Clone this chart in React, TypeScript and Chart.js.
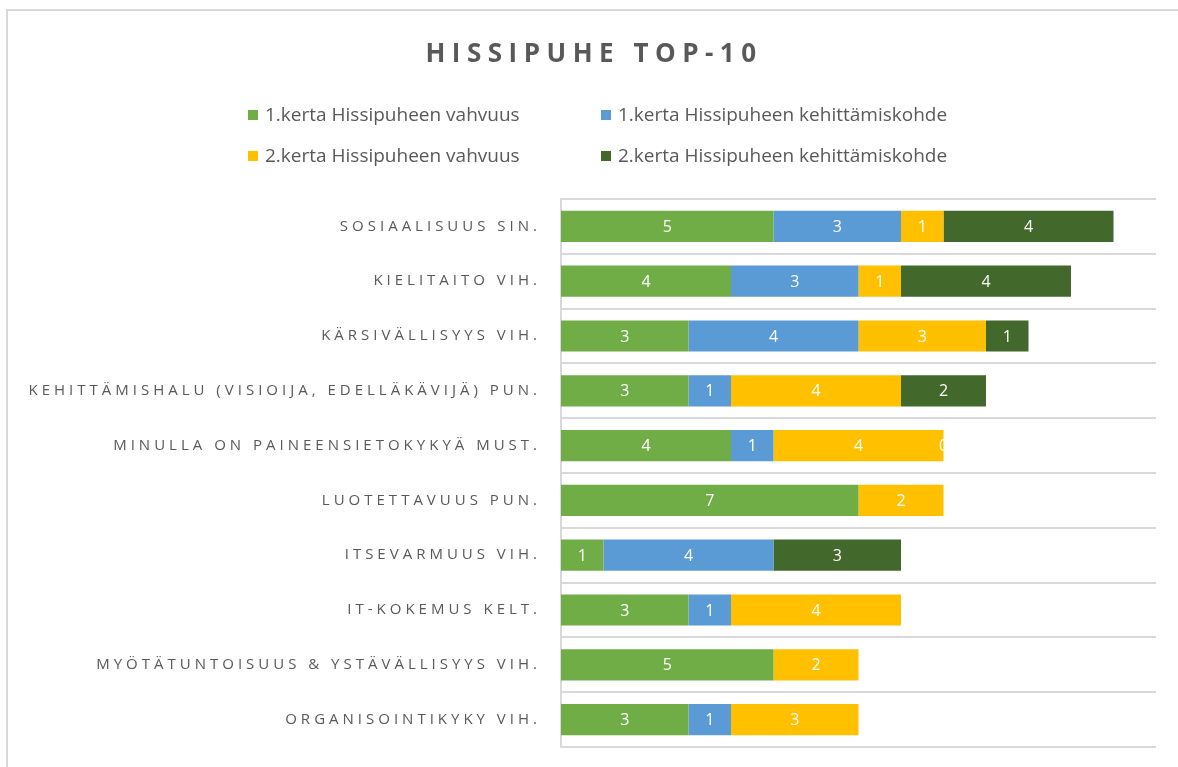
import React, { useEffect, useRef } from 'react';
import { Chart, registerables } from 'chart.js';

Chart.register(...registerables);

const chartTitle = 'HISSIPUHE TOP-10';

const categories = [
  'SOSIAALISUUS SIN.',
  'KIELITAITO VIH.',
  'KÄRSIVÄLLISYYS VIH.',
  'KEHITTÄMISHALU (VISIOIJA, EDELLÄKÄVIJÄ) PUN.',
  'MINULLA ON PAINEENSIETOKYKYÄ MUST.',
  'LUOTETTAVUUS PUN.',
  'ITSEVARMUUS VIH.',
  'IT-KOKEMUS KELT.',
  'MYÖTÄTUNTOISUUS & YSTÄVÄLLISYYS VIH.',
  'ORGANISOINTIKYKY VIH.',
];

const seriesNames = [
  '1.kerta Hissipuheen vahvuus',
  '1.kerta Hissipuheen kehittämiskohde',
  '2.kerta Hissipuheen vahvuus',
  '2.kerta Hissipuheen kehittämiskohde',
];

const firstStrength = [5, 4, 3, 3, 4, 7, 1, 3, 5, 3];
const firstDevelop = [3, 3, 4, 1, 1, null, 4, 1, null, 1];
const secondStrength = [1, 1, 3, 4, 4, 2, null, 4, 2, 3];
const secondDevelop = [4, 4, 1, 2, 0, null, 3, null, null, null];

const seriesColors = ['#70AD47', '#5B9BD5', '#FFC000', '#43682B'];
const xMin = 0;
const xMax = 14;

const TITLE_SPACING = '6.5px';
const TICK_SPACING = '4px';
const AXIS_RIGHT = 561;
const TITLE_BOX_LEFT = 32;

const spacingPlugin = {
  id: 'letterSpacingPlugin',
  beforeLayout(chart: any) {
    chart.ctx.letterSpacing = TICK_SPACING;
  },
  afterLayout(chart: any) {
    if (chart.titleBlock) chart.titleBlock.left = TITLE_BOX_LEFT;
  },
  beforeDraw(chart: any) {
    chart.ctx.letterSpacing = TITLE_SPACING;
  },
  beforeDatasetsDraw(chart: any) {
    chart.ctx.letterSpacing = '0px';
  },
  afterDatasetsDraw(chart: any) {
    chart.ctx.letterSpacing = TICK_SPACING;
  },
};

const valueLabelPlugin = {
  id: 'valueLabels',
  afterDatasetsDraw(chart: any) {
    const ctx = chart.ctx;
    ctx.save();
    ctx.letterSpacing = '0px';
    ctx.font = '16px "Open Sans", sans-serif';
    ctx.fillStyle = '#ffffff';
    ctx.textAlign = 'center';
    ctx.textBaseline = 'middle';
    chart.data.datasets.forEach((ds: any, i: number) => {
      const meta = chart.getDatasetMeta(i);
      meta.data.forEach((el: any, j: number) => {
        const v = ds.data[j];
        if (v === null || v === undefined) return;
        const p = el.getProps(['x', 'base', 'y'], true);
        ctx.fillText(String(v), (p.x + p.base) / 2, p.y + 1);
      });
    });
    ctx.restore();
  },
};

const legendPlugin = {
  id: 'gridLegend',
  afterDraw(chart: any) {
    const ctx = chart.ctx;
    const cols = [248, 601];
    const rows = [115, 156];
    ctx.save();
    ctx.letterSpacing = '0px';
    ctx.font = '19px "Open Sans", sans-serif';
    ctx.textAlign = 'left';
    ctx.textBaseline = 'middle';
    chart.data.datasets.forEach((ds: any, i: number) => {
      const x = cols[i % 2];
      const y = rows[Math.floor(i / 2)];
      ctx.fillStyle = ds.backgroundColor;
      ctx.fillRect(x, y - 5, 10, 10);
      ctx.fillStyle = '#595959';
      ctx.fillText(ds.label, x + 17, y + 1);
    });
    ctx.restore();
  },
};

export default function App() {
  const canvasRef = useRef<HTMLCanvasElement | null>(null);

  useEffect(() => {
    const canvas = canvasRef.current;
    if (!canvas) return;
    const seriesData = [firstStrength, firstDevelop, secondStrength, secondDevelop];
    const chart = new Chart(canvas, {
      type: 'bar',
      data: {
        labels: categories,
        datasets: seriesData.map((d, i) => ({
          label: seriesNames[i],
          data: d,
          backgroundColor: seriesColors[i],
          borderWidth: 0,
          barPercentage: 0.57,
          categoryPercentage: 1,
        })),
      },
      options: {
        indexAxis: 'y',
        responsive: false,
        animation: false,
        layout: { padding: { left: 0, right: 22, top: 0, bottom: 20 } },
        plugins: {
          legend: { display: false },
          tooltip: { enabled: false },
          title: {
            display: true,
            text: chartTitle,
            color: '#595959',
            font: { family: '"Open Sans", sans-serif', size: 26, weight: 'bold', lineHeight: 1.2 },
            padding: { top: 39, bottom: 128.8 },
          },
        },
        scales: {
          x: {
            type: 'linear',
            stacked: true,
            min: xMin,
            max: xMax,
            display: false,
          },
          y: {
            stacked: true,
            afterFit(scale: any) {
              scale.width = AXIS_RIGHT;
              scale.paddingTop = 0;
              scale.paddingBottom = 0;
            },
            grid: {
              color: '#d9d9d9',
              lineWidth: 2,
              drawTicks: false,
              offset: true,
            },
            border: { color: '#d9d9d9', width: 2 },
            ticks: {
              z: 1,
              autoSkip: false,
              color: '#595959',
              padding: 20,
              font: { family: '"Open Sans", sans-serif', size: 15 },
            },
          },
        },
      },
      plugins: [spacingPlugin, valueLabelPlugin, legendPlugin],
    } as any);
    return () => chart.destroy();
  }, []);

  return (
    <div style={{ position: 'fixed', left: 0, top: 0, width: 1178, height: 767, background: '#ffffff', overflow: 'hidden' }}>
      <div
        style={{
          position: 'absolute',
          left: 6,
          top: 9,
          right: 0,
          bottom: 0,
          borderTop: '2px solid #d9d9d9',
          borderLeft: '2px solid #d9d9d9',
        }}
      />
      <canvas ref={canvasRef} width={1178} height={767} style={{ position: 'absolute', left: 0, top: 0 }} />
    </div>
  );
}
